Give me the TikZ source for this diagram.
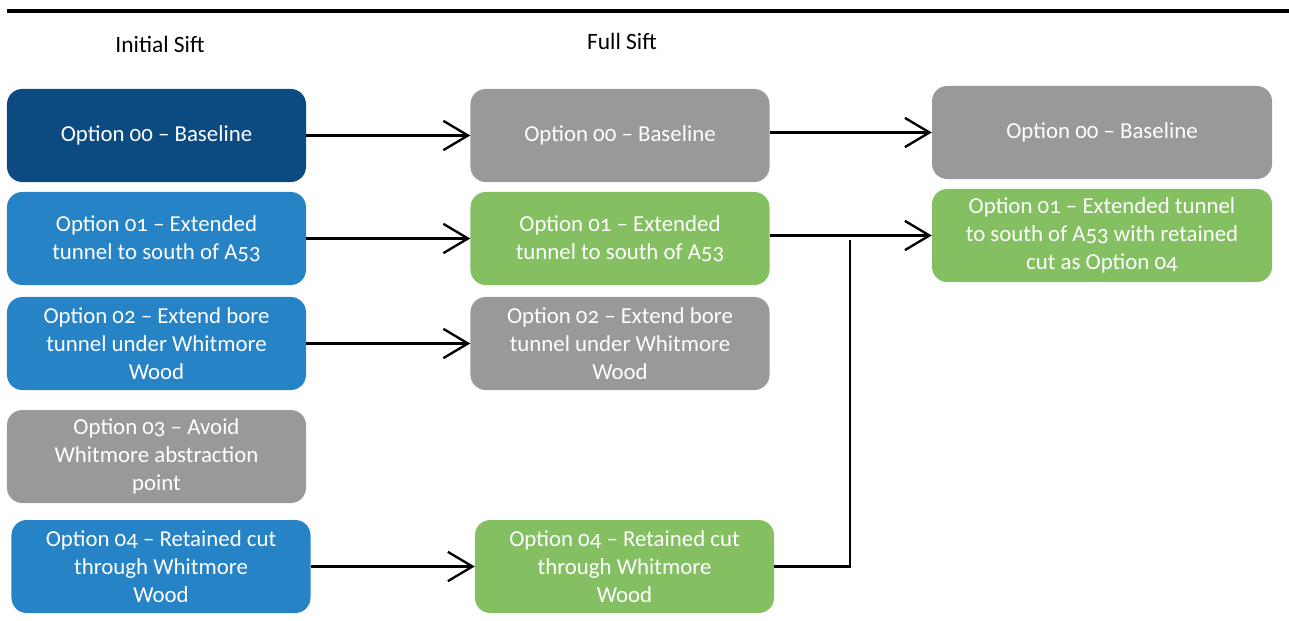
\documentclass[tikz,border=0pt]{standalone}
\usepackage{fontspec}
\setmainfont{Carlito}[Numbers=OldStyle]
\usetikzlibrary{arrows.meta}
\definecolor{navyopt}{HTML}{0B4B82}
\definecolor{blueopt}{HTML}{2683C6}
\definecolor{greyopt}{HTML}{999999}
\definecolor{greenopt}{HTML}{84C062}
\tikzset{
  opt/.style={rectangle, rounded corners=13pt, minimum width=8.97cm, minimum height=2.79cm,
    inner sep=0pt, align=center, text=white, font=\fontsize{19.5}{23.8}\selectfont},
  wide/.style={minimum width=10.2cm},
  link/.style={line width=2pt, -{Straight Barb[length=21pt,width=25pt,line width=2pt]}},
  title/.style={font=\fontsize{20}{22}\selectfont}
}
\begin{document}
\begin{tikzpicture}[x=0.03cm,y=-0.03cm]
  \useasboundingbox (0,0) rectangle (1289,621);
  \draw[line width=2.6pt] (7,11) -- (1289,11);
  \node[title] (tinit) at (160,44) {Initial Sift};
  \node[title] (tfull) at (622,41) {Full Sift};
  % initial sift
  \foreach \n/\x/\y/\c/\t in {00/156.5/135.5/navyopt/{Option 00 – Baseline},
      01/156.5/238.5/blueopt/{Option 01 – Extended\\tunnel to south of A53},
      02/156.5/343.5/blueopt/{Option 02 – Extend bore\\tunnel under Whitmore\\Wood},
      03/156.5/456.5/greyopt/{Option 03 – Avoid\\Whitmore abstraction\\point},
      04/161/566.5/blueopt/{Option 04 – Retained cut\\through Whitmore\\Wood}}
  {
    \node[opt, fill=\c] (i\n) at (\x,\y) {\t};
  }
  % full sift
  \foreach \n/\x/\y/\c/\t in {00/620/135.5/greyopt/{Option 00 – Baseline},
      01/620/238.5/greenopt/{Option 01 – Extended\\tunnel to south of A53},
      02/620/343.5/greyopt/{Option 02 – Extend bore\\tunnel under Whitmore\\Wood},
      04/624.5/566.5/greenopt/{Option 04 – Retained cut\\through Whitmore\\Wood}}
  {
    \node[opt, fill=\c] (f\n) at (\x,\y) {\t};
  }
  % preferred
  \node[opt, wide, fill=greyopt] (p00) at (1102,132.5) {Option 00 – Baseline};
  \node[opt, wide, fill=greenopt] (p01) at (1102,235.5) {Option 01 – Extended tunnel\\to south of A53 with retained\\cut as Option 04};
  \foreach \n in {00,01,02,04}
  {
    \draw[link] (i\n) -- (f\n);
  }
  \draw[link] (f00.east |- p00) -- (p00);
  \draw[link] (f01.east |- p01) -- (p01);
  \coordinate (join) at (850,240);
  \draw[line width=2pt] (f04.east) -| (join);
\end{tikzpicture}
\end{document}
